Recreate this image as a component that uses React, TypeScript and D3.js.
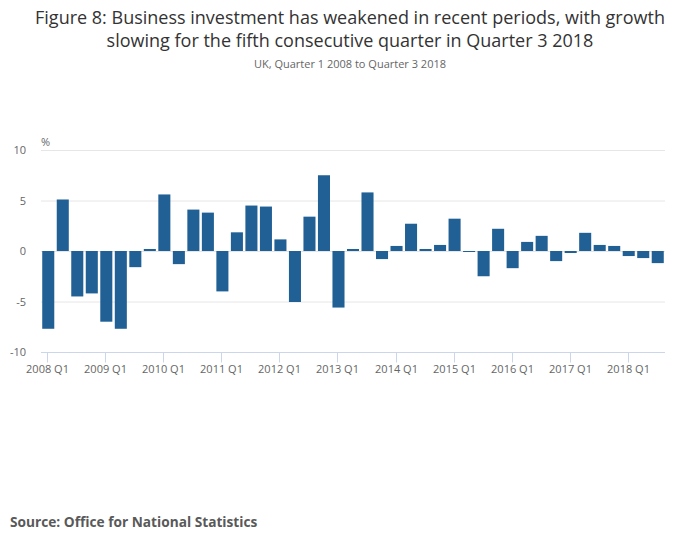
import { useEffect, useRef } from 'react'
import * as d3 from 'd3'

const years = ['2008', '2009', '2010', '2011', '2012', '2013', '2014', '2015', '2016', '2017', '2018']
const quarters = years.flatMap(y => ['Q1', 'Q2', 'Q3', 'Q4'].map(q => `${y} ${q}`)).slice(0, 43)

// quarter on quarter growth, %
const growth = [
  -7.7, 5.1, -4.5, -4.2,
  -7.0, -7.7, -1.6, 0.2,
  5.6, -1.3, 4.1, 3.8,
  -4.0, 1.85, 4.5, 4.4,
  1.15, -5.05, 3.4, 7.5,
  -5.6, 0.2, 5.8, -0.8,
  0.5, 2.7, 0.2, 0.6,
  3.2, -0.1, -2.5, 2.2,
  -1.7, 0.9, 1.5, -1.0,
  -0.2, 1.8, 0.6, 0.5,
  -0.5, -0.7, -1.2,
]

const yTicks = [-10, -5, 0, 5, 10]
const xTickLabels = years.map(y => `${y} Q1`)

const font = '"Open Sans", sans-serif'

export default function App() {
  const svgRef = useRef<SVGSVGElement>(null)

  useEffect(() => {
    if (!svgRef.current) return
    const width = 700
    const height = 549
    const margin = { top: 150, right: 35, bottom: 197, left: 41 }

    const svg = d3.select(svgRef.current)
    svg.selectAll('*').remove()

    const x = d3.scaleBand()
      .domain(quarters)
      .range([margin.left, width - margin.right])
      .paddingInner(0.17)
      .paddingOuter(0.085)

    const y = d3.scaleLinear()
      .domain([-10, 10])
      .range([height - margin.bottom, margin.top])

    // titles
    const title = svg.append('text')
      .attr('x', width / 2)
      .attr('text-anchor', 'middle')
      .attr('font-family', font)
      .attr('font-size', 18)
      .attr('fill', '#333')
    title.append('tspan').attr('x', width / 2).attr('y', 24)
      .text('Figure 8: Business investment has weakened in recent periods, with growth')
    title.append('tspan').attr('x', width / 2).attr('y', 47)
      .text('slowing for the fifth consecutive quarter in Quarter 3 2018')

    svg.append('text')
      .attr('x', width / 2)
      .attr('y', 68)
      .attr('text-anchor', 'middle')
      .attr('font-family', font)
      .attr('font-size', 11)
      .attr('fill', '#666')
      .text('UK, Quarter 1 2008 to Quarter 3 2018')

    // gridlines
    svg.append('g')
      .selectAll('line')
      .data(yTicks.filter(t => t !== -10))
      .join('line')
      .attr('x1', margin.left)
      .attr('x2', width - margin.right)
      .attr('y1', d => y(d) + 0.5)
      .attr('y2', d => y(d) + 0.5)
      .attr('stroke', '#e6e6e6')

    // y labels
    svg.append('g')
      .selectAll('text')
      .data(yTicks)
      .join('text')
      .attr('x', 26)
      .attr('y', d => y(d) + 4)
      .attr('text-anchor', 'end')
      .attr('font-family', font)
      .attr('font-size', 11)
      .attr('fill', '#666')
      .text(d => d)

    svg.append('text')
      .attr('x', margin.left)
      .attr('y', margin.top - 4)
      .attr('font-family', font)
      .attr('font-size', 11)
      .attr('fill', '#666')
      .text('%')

    // bars
    svg.append('g')
      .selectAll('rect')
      .data(growth)
      .join('rect')
      .attr('x', (_, i) => x(quarters[i])!)
      .attr('width', x.bandwidth())
      .attr('y', d => y(Math.max(0, d)))
      .attr('height', d => Math.abs(y(d) - y(0)))
      .attr('fill', '#206095')

    // x axis
    const axisY = height - margin.bottom + 0.5
    svg.append('line')
      .attr('x1', margin.left)
      .attr('x2', width - margin.right)
      .attr('y1', axisY)
      .attr('y2', axisY)
      .attr('stroke', '#ccd6eb')

    const xt = svg.append('g')
      .selectAll('g')
      .data(xTickLabels)
      .join('g')
      .attr('transform', d => `translate(${Math.round(x(d)! + x.bandwidth() / 2) - 0.5},${axisY})`)
    xt.append('line')
      .attr('y2', 10)
      .attr('stroke', '#ccd6eb')
    xt.append('text')
      .attr('y', 20)
      .attr('text-anchor', 'middle')
      .attr('font-family', font)
      .attr('font-size', 11)
      .attr('fill', '#666')
      .text(d => d)

    svg.append('text')
      .attr('x', 10)
      .attr('y', 527)
      .attr('font-family', font)
      .attr('font-size', 13.7)
      .attr('font-weight', 'bold')
      .attr('fill', '#595959')
      .text('Source: Office for National Statistics')
  }, [])

  return (
    <svg
      ref={svgRef}
      width={700}
      height={549}
      style={{ position: 'absolute', left: 0, top: 0, background: '#fff' }}
    />
  )
}
